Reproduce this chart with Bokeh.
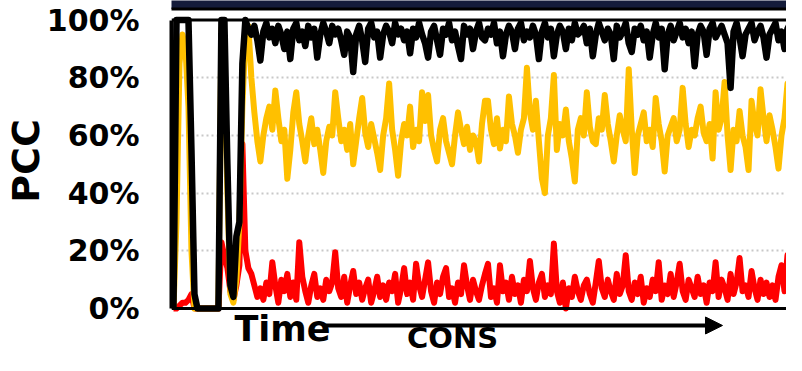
from bokeh.plotting import figure
from bokeh.models import Range1d, FixedTicker, Span, Arrow, NormalHead, Label
from bokeh.core.properties import value
from bokeh.embed import file_html
from bokeh.resources import INLINE

# ---- data (PCC in %, one sample per time step) ----
black = [0, 100, 100, 100, 100, 100, 55, 5, 0, 0,
         0, 0, 0, 0, 0, 0, 100, 100, 50, 8,
         4, 25, 30, 85, 100, 97, 95, 98, 93, 86,
         96, 99, 94, 97, 92, 98, 95, 90, 96, 86.5,
         97, 99, 93, 96, 91, 98, 94, 97, 87, 95,
         99, 96, 92, 98, 95, 97, 93, 88, 96, 94,
         82, 95, 98, 93, 85.5, 97, 99, 94, 96, 87,
         95, 98, 96, 92, 99, 95, 97, 93, 96, 88.5,
         97, 94, 99, 95, 92, 87, 96, 98, 93, 88,
         97, 95, 99, 93, 96, 91, 86.5, 98, 95, 97,
         90, 96, 99, 94, 93, 97, 95, 99, 92, 96,
         87.5, 95, 98, 96, 90, 97, 99, 93, 96, 94,
         98, 95, 86.5, 96, 99, 94, 97, 87.5, 95, 98,
         96, 90, 97, 93, 99, 95, 96, 98, 92, 97,
         87.5, 95, 99, 96, 93, 97, 95, 86.5, 98, 94,
         96, 99, 92, 89, 97, 95, 98, 93, 96, 87,
         95, 99, 94, 97, 83, 95, 98, 93, 96, 99,
         94, 97, 92, 96, 84, 95, 98, 96, 88, 97,
         99, 94, 96, 98, 95, 92, 76.5, 96, 99, 94,
         87.5, 95, 97, 99, 93, 96, 98, 94, 87, 95,
         97, 99, 93, 96, 90, 97, 99, 95, 92, 86.5,
         93]

yellow = [0, 30, 85, 95, 90, 70, 20, 0, 0, 0,
          0, 0, 0, 0, 0, 0, 97, 85, 40, 5,
          2, 10, 30, 70, 95, 98, 80, 68, 58, 51,
          60, 66, 70, 62, 75.6, 66, 58, 62, 45, 55,
          68, 75, 64, 58, 51, 60, 66, 57, 62, 55,
          47, 58, 63, 60, 75, 66, 58, 62, 55, 64,
          50, 58, 66, 73, 61, 56, 64, 59, 54, 48,
          60, 66, 78, 62, 55, 46, 58, 64, 60, 70,
          56, 62, 58, 75, 65, 74, 60, 55, 51, 62,
          66, 58, 54, 50, 60, 68, 62, 57, 63, 55,
          60, 58, 51, 64, 72, 72, 62, 57, 66, 55.5,
          62, 58, 73.5, 64, 60, 54, 62, 66, 83.5, 68,
          62, 72, 58, 45, 40, 60, 66, 81, 55, 64,
          60, 69, 58, 52, 44, 62, 66, 60, 75, 63,
          58, 57, 66, 62, 74, 64, 58, 51, 60, 67,
          62, 58, 83, 62, 47, 60, 64, 68, 58, 62,
          56, 73, 64, 58, 47.5, 60, 63, 66, 58, 62,
          76.5, 64, 56, 62, 60, 66, 70, 61, 58, 64,
          52, 75, 62, 66, 78.5, 60, 48, 62, 58, 68.5,
          60, 56, 48, 72, 64, 60, 76, 66, 58, 67,
          62, 56, 48.5, 60, 66, 78, 64, 58, 62, 52,
          60]

red = [0, 0, 1, 2, 2, 3, 5, 0, 0, 0,
       0, 0, 0, 0, 0, 0, 23, 18, 14, 6,
       3, 8, 15, 57, 20, 14, 12, 8, 4, 7,
       3, 9, 5, 16, 8, 2, 10, 6, 12, 4,
       9, 3, 23, 11, 6, 2, 8, 12, 4, 7,
       3, 10, 6, 9, 19.5, 7, 4, 11, 2, 8,
       13, 5, 9, 3, 7, 10, 2, 6, 11, 4,
       8, 3, 9, 6, 12, 2, 7, 14, 5, 9,
       3, 15.5, 8, 4, 10, 16, 6, 2, 9, 5,
       11, 14, 4, 7, 2, 9, 5, 15, 8, 3,
       10, 6, 3, 8, 12, 15.5, 4, 7, 2, 15,
       6, 9, 3, 11, 5, 8, 2, 10, 6, 16.5,
       7, 3, 9, 12, 4, 8, 5, 22.5, 6, 2,
       9, 0, 7, 4, 11, 6, 3, 8, 10, 5,
       2, 9, 16.5, 7, 4, 10, 6, 3, 12, 5,
       8, 18.5, 6, 3, 9, 5, 11, 2, 7, 4,
       10, 6, 16, 3, 8, 5, 12, 4, 9, 15.5,
       6, 3, 10, 7, 4, 11, 5, 8, 2, 9,
       6, 16, 4, 10, 7, 3, 12, 5, 9, 17.5,
       6, 8, 4, 13, 7, 3, 10, 5, 9, 4,
       8, 3, 11, 15, 6, 18.5, 9, 4, 7, 10,
       5]

time_idx = list(range(len(black)))

y_ticks = [0, 20, 40, 60, 80, 100]
y_tick_labels = ["0%", "20%", "40%", "60%", "80%", "100%"]
grid_ticks = [20, 40, 60, 80]

FONT = "DejaVu Sans"
PAD = "\u00a0\u00a0\u2009"

p = figure(width=786, height=355,
           x_range=Range1d(-0.667, 204.67), y_range=Range1d(-16.3, 106.8),
           x_axis_location=None,
           output_backend="svg", toolbar_location=None,
           min_border_left=170, min_border_right=0,
           min_border_top=0, min_border_bottom=0)
p.outline_line_color = None
p.background_fill_color = "white"
p.border_fill_color = "white"
for g in p.xgrid:
    g.visible = False

p.yaxis.ticker = FixedTicker(ticks=y_ticks)
p.yaxis.major_label_overrides = dict(zip(y_ticks, y_tick_labels))
p.yaxis.bounds = (0, 100)
p.yaxis.axis_line_width = 4
p.yaxis.axis_line_color = "black"
p.yaxis.major_tick_line_color = None
p.yaxis.minor_tick_line_color = None
p.yaxis.major_tick_out = 0
p.yaxis.major_tick_in = 0
p.yaxis.minor_tick_out = 0
p.yaxis.minor_tick_in = 0
p.yaxis.major_label_standoff = 32
p.yaxis.major_label_text_font = FONT
p.yaxis.major_label_text_font_style = "bold"
p.yaxis.major_label_text_font_size = "30px"
p.yaxis.major_label_text_color = "black"
p.yaxis.axis_label = PAD + "PCC"
p.yaxis.axis_label_text_font = FONT
p.yaxis.axis_label_text_font_style = "bold"
p.yaxis.axis_label_text_font_size = "38px"
p.yaxis.axis_label_text_color = "black"
p.yaxis.axis_label_standoff = -4

p.ygrid.ticker = FixedTicker(ticks=grid_ticks)
p.ygrid.grid_line_color = "#c8c8c8"
p.ygrid.grid_line_dash = "2 3"
p.ygrid.grid_line_width = 2

# series
p.line(time_idx, red, line_color="#FF0000", line_width=6, line_join="round")
p.line(time_idx, yellow, line_color="#FFC000", line_width=6, line_join="round")
p.line(time_idx, black, line_color="#000000", line_width=6.5, line_join="round")

# frame top / bottom borders
p.add_layout(Span(location=100, dimension="width", line_color="black", line_width=3))
p.add_layout(Span(location=0, dimension="width", line_color="black", line_width=3))

# cut-off dark legend box above the chart
p.add_layout(Label(x=-46.7, y=103.85, text=" ", text_font_size="2px",
                   text_align="left", text_baseline="bottom",
                   background_fill_color="#141B3A", border_line_color="black",
                   border_line_width=3, border_radius=8,
                   padding=dict(left=0, right=800, top=30, bottom=0)))

# time axis annotation
p.text(x=[20.33], y=[-7.28], text=["Time"], text_font=value(FONT),
       text_font_style="bold", text_font_size="35px", text_align="left",
       text_baseline="middle", text_color="black")
p.add_layout(Arrow(end=NormalHead(size=17, fill_color="black", line_color="black"),
                   x_start=50, y_start=-5.89, x_end=183.3, y_end=-5.89,
                   line_width=4, line_color="black"))
p.text(x=[93.17], y=[-10.40], text=["CONS"], text_font=value(FONT),
       text_font_style="bold", text_font_size="29px", text_align="center",
       text_baseline="middle", text_color="black")

open("out.html", "w").write(file_html(p, INLINE))
